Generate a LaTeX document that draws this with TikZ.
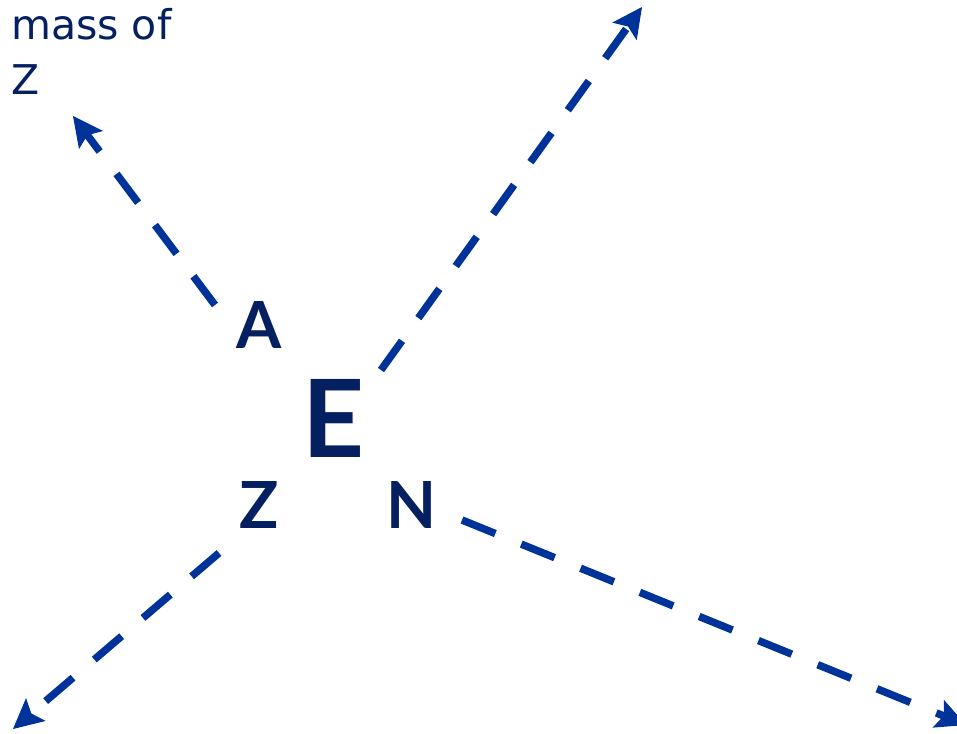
\documentclass[tikz,border=0pt]{standalone}
\usepackage{fontspec}
\setmainfont{DejaVu Sans}
\newfontfamily\letterfont{Lato}
\usetikzlibrary{arrows.meta,calc}
\definecolor{navytext}{RGB}{5,32,96}
\definecolor{lineblue}{RGB}{0,51,153}
\tikzset{
  bigletter/.style={inner sep=0pt, text=navytext, font=\letterfont\bfseries\fontsize{65}{65}\selectfont},
  hugeletter/.style={inner sep=0pt, text=navytext, font=\letterfont\bfseries\fontsize{108}{108}\selectfont},
  dashshaft/.style={draw=lineblue, line width=7.5pt, dash pattern=on 36pt off 28pt, shorten >=24pt},
  solidhead/.style={draw=lineblue, fill=lineblue, line width=1pt, solid,
    -{Stealth[length=30pt,width=30pt,inset=6pt]}},
  smalltext/.style={inner sep=0pt, text=navytext, align=left, font=\fontsize{41}{55}\selectfont}
}
\begin{document}
\begin{tikzpicture}[x=1pt,y=-1pt]
\path[use as bounding box] (0,0) rectangle (957,733);
\clip (0,0) rectangle (957,733);
\fill[white] (0,0) rectangle (957,733);
\node[smalltext, anchor=north west] (label) at (11,8) {mass of\\Z};
\node[bigletter] (A) at (259.5,325) {A};
\node[hugeletter] (E) at (334,418.5) {E};
\node[bigletter] (Z) at (259.5,505) {Z};
\node[bigletter] (N) at (412,505) {N};
\coordinate (ulS) at (215,305);
\coordinate (ulT) at (73,116);
\coordinate (urS) at (381,370);
\coordinate (urT) at (642,7);
\coordinate (llS) at (219,553);
\coordinate (llT) at (13,729);
\coordinate (lrS) at (462,520);
\coordinate (lrT) at (966,725);
\draw[dashshaft] (ulS) -- (ulT);
\draw[dashshaft] (urS) -- (urT);
\draw[dashshaft] (llS) -- (llT);
\draw[dashshaft] (lrS) -- (lrT);
\draw[solidhead] ($(ulT)!2pt!(ulS)$) -- (ulT);
\draw[solidhead] ($(urT)!2pt!(urS)$) -- (urT);
\draw[solidhead] ($(llT)!2pt!(llS)$) -- (llT);
\draw[solidhead] ($(lrT)!2pt!(lrS)$) -- (lrT);
\end{tikzpicture}
\end{document}
